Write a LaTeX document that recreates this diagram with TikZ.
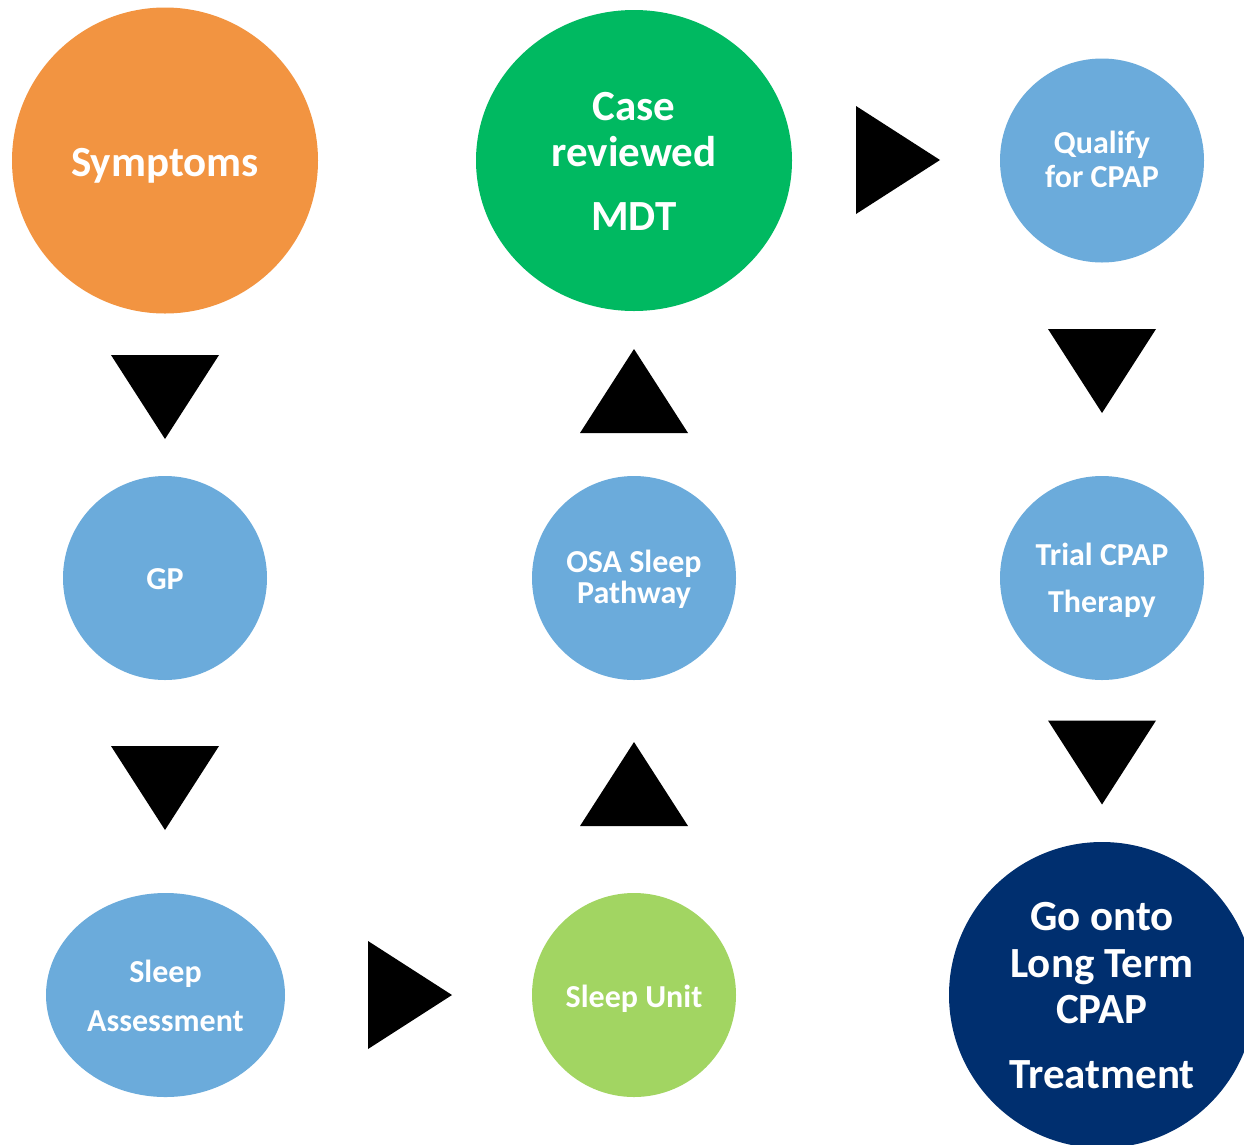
\documentclass[tikz,border=0pt]{standalone}
\usepackage{fontspec}
\setmainfont{Carlito}
\usetikzlibrary{shapes.geometric}

\definecolor{stepOrange}{HTML}{F29441}
\definecolor{stepGreen}{HTML}{00B961}
\definecolor{stepBlue}{HTML}{6BABDB}
\definecolor{stepLime}{HTML}{A2D562}
\definecolor{stepNavy}{HTML}{002F6F}

% multi-line label whose baseline is that of its first line
\newcommand\mlines[1]{\begin{tabular}[t]{@{}c@{}}#1\end{tabular}}

\begin{document}
\begin{tikzpicture}[x=1pt,y=-1pt,
  disc/.style={circle, draw=none, inner sep=0pt, minimum size=204pt},
  oval/.style={ellipse, draw=none, inner sep=0pt},
  lbl/.style={text=white, inner sep=0pt, anchor=base},
  smalltxt/.style={lbl, font=\fontsize{32}{31}\selectfont\bfseries},
  bigtxt/.style={lbl, font=\fontsize{43}{46}\selectfont\bfseries},
  pics/tri right/.style={code={\fill[black] (-42,-54) -- (42,0) -- (-42,54) -- cycle;}},
  pics/tri down/.style={code={\fill[black] (-54,-42) -- (54,-42) -- (0,42) -- cycle;}},
  pics/tri up/.style={code={\fill[black] (-54,42) -- (54,42) -- (0,-42) -- cycle;}},
]
\useasboundingbox (0,0) rectangle (1244,1144);
\clip (0,0) rectangle (1244,1144);
\fill[white] (0,0) rectangle (1244,1144);

% stages of the pathway
\node[disc, fill=stepOrange, minimum size=306pt] (symptoms) at (165,160.5) {};
\node[oval, fill=stepGreen, minimum width=316pt, minimum height=301pt] (mdt) at (634,160.5) {};
\node[disc, fill=stepBlue] (qualify) at (1102,160.5) {};
\node[disc, fill=stepBlue] (gp) at (165,578) {};
\node[disc, fill=stepBlue] (osa) at (634,578) {};
\node[disc, fill=stepBlue] (trial) at (1102,578) {};
\node[oval, fill=stepBlue, minimum width=239pt, minimum height=204pt] (assess) at (165.5,995) {};
\node[disc, fill=stepLime] (unit) at (634,995) {};
\node[disc, fill=stepNavy, minimum size=306pt] (longterm) at (1102,995) {};

% labels
\node[bigtxt] (symptoms-t) at (165,176) {Symptoms};
\node[bigtxt] (mdt-t) at (634,120) {\mlines{Case\\reviewed\\[18pt]MDT}};
\node[smalltxt] (qualify-t) at (1102,153) {\mlines{Qualify\\[3pt]for CPAP}};
\node[smalltxt] (gp-t) at (165,589) {GP};
\node[smalltxt] (osa-t) at (634,572) {\mlines{OSA Sleep\\Pathway}};
\node[smalltxt] (trial-t) at (1102,565) {\mlines{Trial CPAP\\[16pt]Therapy}};
\node[smalltxt] (assess-t) at (165.5,982) {\mlines{Sleep\\[18pt]Assessment}};
\node[smalltxt] (unit-t) at (634,1007) {Sleep Unit};
\node[bigtxt] (longterm-t) at (1102,930) {\mlines{Go onto\\[1pt]Long Term\\CPAP\\[19pt]Treatment}};

% direction markers between stages
\pic (a1) at (165,397) {tri down};
\pic (a2) at (165,788) {tri down};
\pic (a3) at (410,995) {tri right};
\pic (a4) at (634,784) {tri up};
\pic (a5) at (634,391) {tri up};
\pic (a6) at (898,160) {tri right};
\pic (a7) at (1102,371) {tri down};
\pic (a8) at (1102,762.5) {tri down};
\end{tikzpicture}
\end{document}
